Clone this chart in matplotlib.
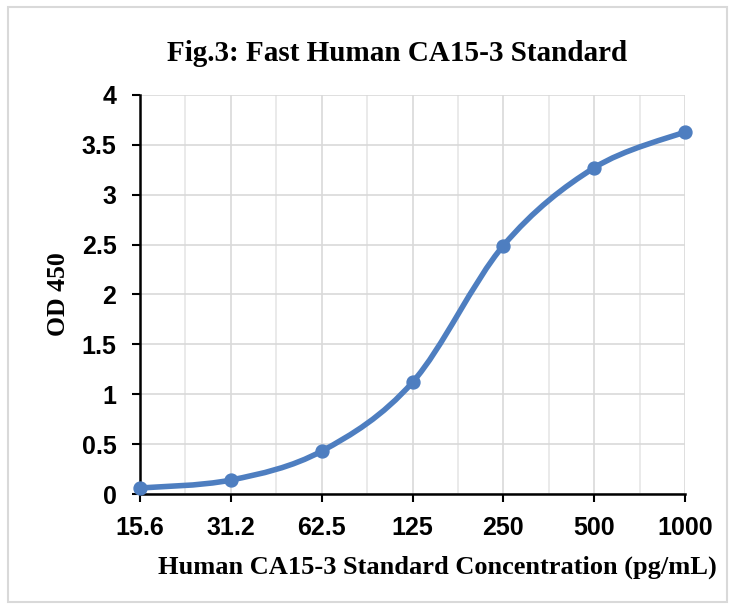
import numpy as np
import matplotlib
matplotlib.use("Agg")
import matplotlib.pyplot as plt
from matplotlib.path import Path
from matplotlib.patches import PathPatch, Rectangle

# Standard curve values
conc_labels = ["15.6", "31.2", "62.5", "125", "250", "500", "1000"]
od450 = [0.06, 0.14, 0.43, 1.12, 2.49, 3.27, 3.63]

blue = "#4E7EC0"
serif = ["Liberation Serif", "DejaVu Serif"]
sans = ["Liberation Sans", "DejaVu Sans"]

fig = plt.figure(figsize=(7.32, 6.08), dpi=100)
ax = fig.add_axes([0.1913, 0.1875, 0.7445, 0.6563])

xs = np.arange(len(conc_labels))
ys = np.array(od450)

# excel-style smoothed line (catmull-rom as cubic bezier)
verts = [(xs[0], ys[0])]
codes = [Path.MOVETO]
n = len(xs)
for i in range(n - 1):
    p0 = np.array([xs[max(i - 1, 0)], ys[max(i - 1, 0)]])
    p1 = np.array([xs[i], ys[i]])
    p2 = np.array([xs[i + 1], ys[i + 1]])
    p3 = np.array([xs[min(i + 2, n - 1)], ys[min(i + 2, n - 1)]])
    c1 = p1 + (p2 - p0) / 6.0
    c2 = p2 - (p3 - p1) / 6.0
    verts += [tuple(c1), tuple(c2), tuple(p2)]
    codes += [Path.CURVE4] * 3
ax.add_patch(PathPatch(Path(verts, codes), fill=False, edgecolor=blue,
                       lw=4, capstyle="round", zorder=3, clip_on=False))
ax.plot(xs, ys, "o", color=blue, ms=9.3, zorder=4, clip_on=False)

ax.set_xlim(0, 6)
ax.set_ylim(0, 4)
ax.set_xticks(xs)
ax.set_xticks(xs[:-1] + 0.5, minor=True)
ax.set_xticklabels(conc_labels)
ax.set_yticks(np.arange(0, 4.01, 0.5))
ax.set_yticklabels(["0", "0.5", "1", "1.5", "2", "2.5", "3", "3.5", "4"])

ax.grid(True, which="major", color="#d9d9d9", lw=1.2)
ax.grid(True, which="minor", axis="x", color="#e6e6e6", lw=1.2)
ax.set_axisbelow(True)
ax.tick_params(which="minor", length=0)
ax.tick_params(which="major", length=6, width=1.5, direction="out")
ax.tick_params(axis="x", pad=10)
ax.tick_params(axis="y", pad=11)

for s in ["top", "right"]:
    ax.spines[s].set_visible(False)
for s in ["left", "bottom"]:
    ax.spines[s].set_linewidth(1.8)

for lab in ax.get_xticklabels() + ax.get_yticklabels():
    lab.set_family(sans)
    lab.set_fontweight("bold")
    lab.set_fontsize(18)

ax.set_ylabel("OD 450", family=serif, fontweight="bold", fontsize=18.5, labelpad=8)
fig.text(0.597, 0.067, "Human CA15-3 Standard Concentration (pg/mL)", family=serif,
         fontweight="bold", fontsize=19, ha="center", va="center")
fig.text(0.543, 0.912, "Fig.3: Fast Human CA15-3 Standard", family=serif,
         fontweight="bold", fontsize=21, ha="center", va="center")

fig.patches.append(Rectangle((0.011, 0.01), 0.982, 0.978, transform=fig.transFigure,
                             fill=False, edgecolor="#d9d9d9", lw=1.5))

fig.savefig("out.png", dpi=100)
